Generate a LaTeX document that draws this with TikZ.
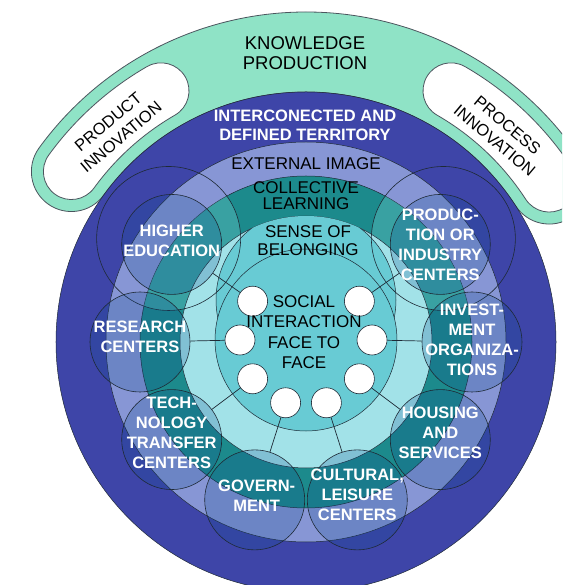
\documentclass[tikz,border=0pt]{standalone}
\usepackage{fontspec}
\setmainfont{Liberation Sans}
\definecolor{mint}{HTML}{8FE3C6}
\definecolor{dblue}{HTML}{3E45A8}
\definecolor{lblue}{HTML}{8796D5}
\definecolor{dteal}{HTML}{1C8A8C}
\definecolor{lteal}{HTML}{A2E2E8}
\definecolor{mteal}{HTML}{68CBD4}
\definecolor{edge}{HTML}{1E2A36}
\definecolor{satfill}{HTML}{104A90}
\definecolor{halofill}{HTML}{7FD8D8}
\begin{document}
\begin{tikzpicture}[x=1pt,y=1pt,
  ring/.style={draw=edge, line width=0.5pt},
  bandline/.style={draw=edge!80, line width=0.8pt},
  satcirc/.style={circle, draw=edge, line width=0.6pt, minimum size=100pt, inner sep=0pt, fill=satfill, fill opacity=0.22},
  halo/.style={circle, draw=edge, line width=0.6pt, minimum size=144pt, inner sep=0pt},
  halolight/.style={fill=halofill, fill opacity=0.3},
  wdot/.style={circle, draw=edge, line width=0.6pt, fill=white, minimum size=30pt, inner sep=0pt},
  spoke/.style={draw=edge, line width=0.7pt},
  satlab/.style={text=white, font=\fontsize{16.5}{20}\selectfont\bfseries, align=center, inner sep=0pt},
  darklab/.style={text=black, font=\fontsize{17}{20}\selectfont, align=center, inner sep=0pt},
]
\fill[white] (-306,-243) rectangle (256,342);
\useasboundingbox (-306,-243) rectangle (256,342);
\clip (-306,-243) rectangle (256,342);

% knowledge band
\path[bandline, fill=mint] (33:330pt) arc[start angle=33, end angle=144, radius=330pt]
  arc[start angle=144, end angle=324, radius=40pt]
  arc[start angle=144, end angle=33, radius=250pt]
  arc[start angle=213, end angle=393, radius=40pt] -- cycle;
% pills
\path[bandline, fill=white] (120:318pt) arc[start angle=120, end angle=144, radius=318pt]
  arc[start angle=144, end angle=324, radius=28pt]
  arc[start angle=144, end angle=120, radius=262pt]
  arc[start angle=300, end angle=480, radius=28pt] -- cycle;
\path[bandline, fill=white] (33:318pt) arc[start angle=33, end angle=60, radius=318pt]
  arc[start angle=60, end angle=240, radius=28pt]
  arc[start angle=60, end angle=33, radius=262pt]
  arc[start angle=213, end angle=393, radius=28pt] -- cycle;

% rings
\draw[ring, fill=dblue] (0,0) circle[radius=250pt];
\draw[ring, fill=lblue] (0,0) circle[radius=200pt];
\draw[ring, fill=dteal] (0,0) circle[radius=166pt];
\begin{scope}
  \clip (0,0) circle[radius=166pt];
  \fill[halolight] (143:172pt) circle[radius=72pt];
  \fill[halolight] (37:172pt) circle[radius=72pt];
\end{scope}
\draw[ring, fill=lteal] (0,0) circle[radius=126pt];
\begin{scope}
  \clip (0,0) circle[radius=126pt];
  \draw[ring, fill=mteal] (0,42) circle[radius=90pt];
\end{scope}
\draw[ring, fill=mteal] (0,2) circle[radius=91pt];

% halo outlines
\node[halo] (h1) at (143:172pt) {};
\node[halo] (h2) at (37:172pt) {};

% satellites
\node[satcirc] (s1) at (144:166pt) {};
\node[satcirc] (s2) at (180:166pt) {};
\node[satcirc] (s3) at (216:166pt) {};
\node[satcirc] (s4) at (252:166pt) {};
\node[satcirc] (s5) at (288:166pt) {};
\node[satcirc] (s6) at (324:166pt) {};
\node[satcirc] (s7) at (0:166pt) {};
\node[satcirc] (s8) at (36:166pt) {};

% white dots
\begin{scope}[shift={(0,2)}]
\node[wdot] (w1) at (144:66pt) {};
\node[wdot] (w2) at (180:66pt) {};
\node[wdot] (w3) at (216:66pt) {};
\node[wdot] (w4) at (252:66pt) {};
\node[wdot] (w5) at (288:66pt) {};
\node[wdot] (w6) at (324:66pt) {};
\node[wdot] (w7) at (0:66pt) {};
\node[wdot] (w8) at (36:66pt) {};
\end{scope}

% spokes
\draw[spoke] (w1) -- (s1);
\draw[spoke] (w2) -- (s2);
\draw[spoke] (w3) -- (s3);
\draw[spoke] (w4) -- (s4);
\draw[spoke] (w5) -- (s5);
\draw[spoke] (w6) -- (s6);
\draw[spoke] (w7) -- (s7);
\draw[spoke] (w8) -- (s8);

% satellite labels
\node[satlab, yshift=4pt] (l1) at (s1) {HIGHER\\EDUCATION};
\node[satlab, yshift=5pt] (l2) at (s2) {RESEARCH\\CENTERS};
\node[satlab, yshift=7pt] (l3) at (s3) {TECH-\\NOLOGY\\TRANSFER\\CENTERS};
\node[satlab, yshift=4pt, xshift=2pt] (l4) at (s4) {GOVERN-\\MENT};
\node[satlab, yshift=5pt] (l5) at (s5) {CULTURAL,\\LEISURE\\CENTERS};
\node[satlab, yshift=7pt] (l6) at (s6) {HOUSING\\AND\\SERVICES};
\node[satlab, yshift=2pt] (l7) at (s7) {INVEST-\\MENT\\ORGANIZA-\\TIONS};
\node[satlab] (l8) at (s8) {PRODUC-\\TION OR\\INDUSTRY\\CENTERS};

% ring labels
\node[darklab, font=\fontsize{18.5}{20}\selectfont] (kp) at (-1,289) {KNOWLEDGE\\PRODUCTION};
\node[satlab, font=\fontsize{16.5}{19}\selectfont\bfseries] (it) at (-1,217) {INTERCONECTED AND\\DEFINED TERRITORY};
\node[darklab] (ei) at (0,178) {EXTERNAL IMAGE};
\node[darklab, font=\fontsize{17}{16}\selectfont] (cl) at (0,146) {COLLECTIVE\\LEARNING};
\node[darklab, font=\fontsize{17}{18}\selectfont] (sb) at (2,101) {SENSE OF\\BELONGING};
\node[darklab, font=\fontsize{17}{20.5}\selectfont] (si) at (-2,10) {SOCIAL\\INTERACTION\\FACE TO\\FACE};
\node[darklab, font=\fontsize{16.5}{20}\selectfont, rotate=40] (pi) at (132:286pt) {PRODUCT\\INNOVATION};
\node[darklab, font=\fontsize{16.5}{20}\selectfont, rotate=-40] (pc) at (47:286pt) {PROCESS\\INNOVATION};
\end{tikzpicture}
\end{document}
